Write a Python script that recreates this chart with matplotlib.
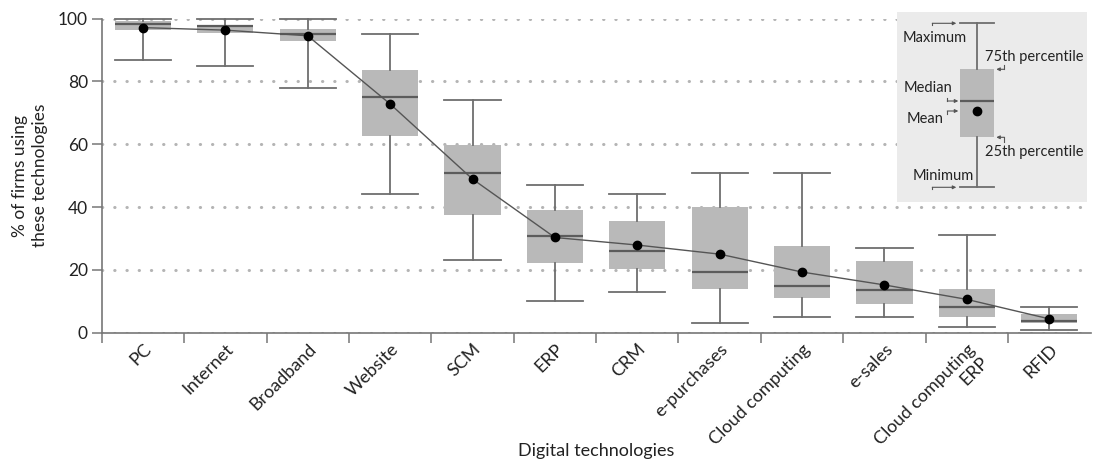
import matplotlib
matplotlib.use("Agg")
import matplotlib.pyplot as plt
import matplotlib.transforms as mtransforms
import numpy as np

plt.rcParams['font.family'] = ['Lato', 'DejaVu Sans']

technologies = ["PC", "Internet", "Broadband", "Website", "SCM", "ERP", "CRM",
                "e-purchases", "Cloud computing", "e-sales",
                "Cloud computing\nERP", "RFID"]
minimum = [86.8, 84.9, 77.9, 44.1, 23.1, 10.0, 12.9, 3.1, 5.1, 5.1, 1.9, 0.9]
p25 = [96.2, 95.4, 92.9, 62.6, 37.5, 22.1, 20.4, 14.0, 11.1, 9.2, 5.1, 3.0]
median = [98.2, 97.5, 95.1, 75.0, 50.9, 30.9, 26.0, 19.4, 15.0, 13.6, 8.2, 3.7]
p75 = [99.2, 97.9, 96.8, 83.7, 59.6, 38.9, 35.6, 39.9, 27.7, 22.8, 13.9, 6.0]
maximum = [100, 100, 100, 95.1, 74.1, 46.9, 44.1, 50.9, 50.9, 27.0, 31.0, 8.1]
mean = [97.1, 96.3, 94.5, 72.8, 48.9, 30.3, 27.9, 25.0, 19.3, 15.2, 10.6, 4.4]

# key box (inset units, y grows downward)
key_stats = dict(whishi=11, q3=57, med=88.7, mean=98.7, q1=125, whislo=175)

BOX = "#b9b9b9"
MED = "#5c5c5c"
WHISK = "#6e6e6e"
AXIS = "#777777"
TXT = "#222222"

fig = plt.figure(figsize=(10.95, 4.62), dpi=100)
W, H = 1095, 462
ax = fig.add_axes([101.7 / W, (H - 332.7) / H, (1090.5 - 101.7) / W, (332.7 - 18.5) / H])

x = np.arange(len(technologies))
stats = [dict(med=m, q1=a, q3=b, whislo=lo, whishi=hi, label=t)
         for t, lo, a, m, b, hi in zip(technologies, minimum, p25, median, p75, maximum)]

box_kw = dict(
    patch_artist=True,
    showfliers=False,
    boxprops=dict(facecolor=BOX, edgecolor="none"),
    medianprops=dict(color=MED, lw=1.6),
    whiskerprops=dict(color=WHISK, lw=1.3),
    capprops=dict(color=WHISK, lw=1.3),
)
ax.bxp(stats, positions=x, widths=0.68, capwidths=0.68, **box_kw)
for art in ax.lines:
    art.set_clip_on(False)

ax.plot(x, mean, color="#555555", lw=1.0, zorder=4)
ax.plot(x, mean, "o", color="black", ms=6, zorder=5)

ax.set_xlim(-0.5, 11.5)
ax.set_ylim(0, 100)
ax.set_yticks([0, 20, 40, 60, 80, 100])
ax.set_xticks(x)
ax.set_xticklabels(technologies, rotation=45, ha="right", rotation_mode="anchor",
                   fontsize=13, color=TXT)
shift = mtransforms.ScaledTranslation(10 / 100, 0, fig.dpi_scale_trans)
for lbl in ax.get_xticklabels():
    lbl.set_transform(lbl.get_transform() + shift)
ax.set_xticks(np.arange(-0.5, 11.5, 1), minor=True)
ax.tick_params(axis="x", which="major", length=0, pad=6)
ax.tick_params(axis="x", which="minor", length=7, color=AXIS, width=1.1)
ax.tick_params(axis="y", length=7, color=AXIS, width=1.1, labelsize=12.5,
               labelcolor=TXT, pad=3)

ax.yaxis.grid(True, linestyle=(0, (0.1, 3.9)), lw=2.2, color="#b4b4b4",
              dash_capstyle="round")
ax.set_axisbelow(True)
for s in ("top", "right"):
    ax.spines[s].set_visible(False)
for s in ("left", "bottom"):
    ax.spines[s].set_color(AXIS)
    ax.spines[s].set_linewidth(1.2)

ax.set_ylabel("% of firms using\nthese technologies", fontsize=12.5, color=TXT,
              linespacing=1.3, va="center")
ax.yaxis.set_label_coords(-72 / 988.8, 0.5)
ax.set_xlabel("Digital technologies", fontsize=13, color=TXT, va="center")
ax.xaxis.set_label_coords(0.5, (332.7 - 451) / 314.2)

# explanatory key
kx0, ky0, kx1, ky1 = 897.3, 12.3, 1087, 201.7
key = fig.add_axes([kx0 / W, (H - ky1) / H, (kx1 - kx0) / W, (ky1 - ky0) / H])
key.set_facecolor("#ebebeb")
kc = 80
key.bxp([dict(med=key_stats["med"], q1=key_stats["q1"], q3=key_stats["q3"],
              whislo=key_stats["whislo"], whishi=key_stats["whishi"])],
        positions=[kc], widths=34, capwidths=34, **box_kw)
key.plot([kc], [key_stats["mean"]], "o", color="black", ms=6, zorder=5)
key.set_xlim(0, kx1 - kx0)
key.set_ylim(ky1 - ky0, 0)
key.set_xticks([])
key.set_yticks([])
for s in key.spines.values():
    s.set_visible(False)


def pointer(pts):
    xs, ys = zip(*pts)
    key.plot(xs[:-1], ys[:-1], color="#555555", lw=0.8)
    key.annotate("", xy=pts[-1], xytext=pts[-2],
                 arrowprops=dict(arrowstyle="-|>", lw=0.8, color="#555555",
                                 mutation_scale=5, shrinkA=0, shrinkB=0))


hi, lo = key_stats["whishi"], key_stats["whislo"]
pointer([(35, hi + 2), (35, hi), (59, hi)])
pointer([(35, lo + 2), (35, lo), (59, lo)])
med_y, mean_y = key_stats["med"], key_stats["mean"]
pointer([(50, med_y - 3), (50, med_y), (61, med_y)])
pointer([(50, mean_y + 3), (50, mean_y), (61, mean_y)])
pointer([(107, key_stats["q3"] - 4.5), (107, key_stats["q3"]), (99, key_stats["q3"])])
pointer([(107, key_stats["q1"] + 4.5), (107, key_stats["q1"]), (99, key_stats["q1"])])

tkw = dict(fontsize=10.5, color=TXT, va="center", ha="left")
key.text(5.4, 26, "Maximum", **tkw)
key.text(87.7, 44.4, "75th percentile", **tkw)
key.text(6.7, 76, "Median", **tkw)
key.text(9.4, 106.7, "Mean", **tkw)
key.text(87.7, 139.4, "25th percentile", **tkw)
key.text(15.4, 163.4, "Minimum", **tkw)

fig.savefig("out.png", dpi=100)
